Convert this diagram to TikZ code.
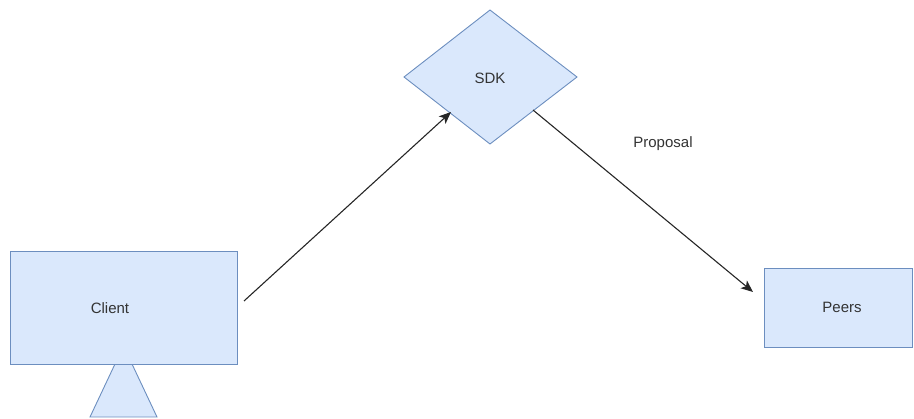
\documentclass[tikz,border=0pt]{standalone}
\usepackage{fontspec}
\setmainfont{Liberation Sans}
\usetikzlibrary{arrows.meta}
\definecolor{fillb}{HTML}{DAE8FC}
\definecolor{lineb}{HTML}{6C8EBF}
\definecolor{txt}{HTML}{333333}
\begin{document}
\begin{tikzpicture}[x=1pt,y=-1pt,
  shapeb/.style={fill=fillb,draw=lineb,line width=0.9pt},
  lbl/.style={font=\fontsize{15}{18}\selectfont,text=txt,inner sep=0pt},
  conn/.style={draw=black!85,line width=1.1pt,-{Stealth[length=12pt,width=10pt,inset=3pt]}}]
\useasboundingbox (0,0) rectangle (914,419);
% triangle stand (behind client box)
\draw[shapeb] (123.5,346) -- (157,417) -- (90,417) -- cycle;
% client box
\draw[shapeb] (10,251) rectangle (237,364);
\node[lbl] (client) at (110,308) {Client};
% SDK diamond
\draw[shapeb] (490,10) -- (577,77) -- (490,144) -- (404,77) -- cycle;
\node[lbl] (sdk) at (490,78) {SDK};
% Peers box
\draw[shapeb] (764,268) rectangle (912,347);
\node[lbl] (peers) at (842,307) {Peers};
% connectors
\coordinate (a1s) at (244,301);
\coordinate (a1e) at (451,112);
\coordinate (a2s) at (533,110);
\coordinate (a2e) at (753,292);
\draw[conn] (a1s) -- (a1e);
\draw[conn] (a2s) -- (a2e);
\node[lbl] (prop) at (663,144) {Proposal};
\end{tikzpicture}
\end{document}
